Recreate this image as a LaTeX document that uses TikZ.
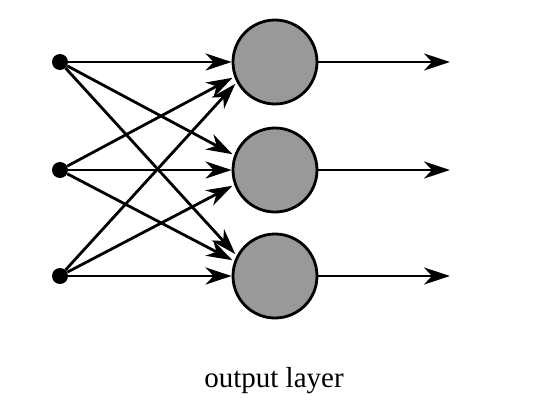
\documentclass[tikz,border=0pt]{standalone}
\usepackage{fontspec}
\setmainfont{Liberation Serif}
\usetikzlibrary{arrows.meta,positioning}
\definecolor{neurongray}{HTML}{999999}
\tikzset{
  inputdot/.style={
    circle,
    fill=black,
    inner sep=0pt,
    minimum size=16pt
  },
  neuron/.style={
    circle,
    draw=black,
    fill=neurongray,
    line width=2.8pt,
    minimum size=84pt,
    inner sep=0pt
  },
  synapse/.style={-{Stealth[length=26pt,width=17pt,inset=8pt]},line width=2.8pt,shorten >=2pt},
  outflow/.style={-{Stealth[length=26pt,width=17pt,inset=8pt]},line width=2.8pt}
}

\begin{document}
\begin{tikzpicture}[x=1pt,y=1pt]
  \useasboundingbox (0,0) rectangle (558,-410);
  \node[inputdot] (in1) at (60,-62) {};
  \node[inputdot] (in2) at (60,-170) {};
  \node[inputdot] (in3) at (60,-276) {};
  \node[neuron] (out1) at (275,-62) {};
  \node[neuron] (out2) at (275,-170) {};
  \node[neuron] (out3) at (275,-276) {};
  \coordinate (end1) at (450,-62);
  \coordinate (end2) at (450,-170);
  \coordinate (end3) at (450,-276);
  \node[font=\fontsize{29}{33}\selectfont] (caption) at (274,-381) {output layer};
  % input -> output layer
  \draw[synapse,shorten >=0pt] (in1) -- (out1.west);
  \draw[synapse] (in1) -- (out2.160);
  \draw[synapse] (in1) -- (out3.152);
  \draw[synapse] (in2) -- (out1.200);
  \draw[synapse,shorten >=0pt] (in2) -- (out2.west);
  \draw[synapse] (in2) -- (out3.160);
  \draw[synapse] (in3) -- (out1.208);
  \draw[synapse] (in3) -- (out2.200);
  \draw[synapse,shorten >=0pt] (in3) -- (out3.west);
  % outputs
  \draw[outflow] (out1) -- (end1);
  \draw[outflow] (out2) -- (end2);
  \draw[outflow] (out3) -- (end3);
\end{tikzpicture}
\end{document}
